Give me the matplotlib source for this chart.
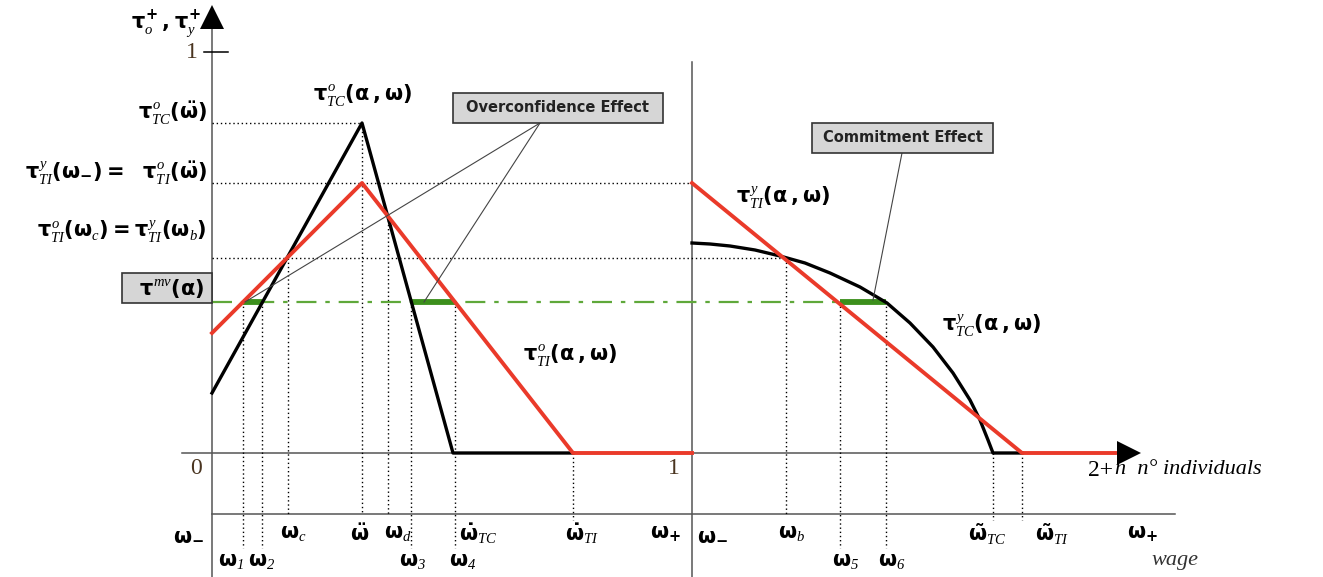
import matplotlib
matplotlib.use("agg")
import matplotlib.pyplot as plt
from matplotlib.patches import Rectangle

plt.rcParams.update({
    "mathtext.fontset": "custom",
    "mathtext.rm": "DejaVu Sans:bold",
    "mathtext.it": "DejaVu Sans:bold",
    "mathtext.bf": "DejaVu Sans:bold",
    "mathtext.cal": "Liberation Serif:italic",
})

# curves in picture coordinates (x to the right, y downwards)
tc_o_x = [212, 362, 453, 573]
tc_o_y = [393, 123, 453, 453]
ti_o_x = [212, 362, 573, 692]
ti_o_y = [333, 183, 453, 453]
ti_y_x = [692, 1022, 1115]
ti_y_y = [183, 453, 453]
tc_y_x = [692, 710, 730, 755, 780, 805, 830, 860, 887, 910, 933, 953, 970,
          980, 988, 993, 1022]
tc_y_y = [243, 244, 246, 250, 256, 263, 273, 287, 303, 323, 347, 373, 400,
          420, 440, 453, 453]

mv_level = 302
green_from = [243, 411, 840]
green_to = [262, 455, 886]

# dotted guides
h_levels = [123, 183, 258]
h_ends = [362, 692, 786]
v_x = [243, 262, 288, 362, 388, 411, 455, 573, 786, 840, 886, 993, 1022]
v_top = [302, 302, 258, 123, 216, 302, 302, 453, 258, 302, 302, 453, 453]
v_bot = [548, 548, 514, 514, 514, 548, 548, 520, 514, 548, 548, 520, 520]

W = r"\omega"
row1_labels = [r"$%s_{-}$" % W, r"$%s_{\mathcal{c}}$" % W, r"$\ddot{%s}$" % W,
               r"$%s_{\mathcal{d}}$" % W, r"$\dot{%s}_{\mathcal{TC}}$" % W,
               r"$\dot{%s}_{\mathcal{TI}}$" % W, r"$%s_{+}$" % W,
               r"$%s_{-}$" % W, r"$%s_{\mathcal{b}}$" % W,
               r"$\tilde{%s}_{\mathcal{TC}}$" % W, r"$\tilde{%s}_{\mathcal{TI}}$" % W,
               r"$%s_{+}$" % W]
row1_x = [188, 293, 360, 398, 478, 582, 665, 712, 792, 987, 1052, 1142]
row2_labels = [r"$%s_{\mathcal{1}}$" % W, r"$%s_{\mathcal{2}}$" % W,
               r"$%s_{\mathcal{3}}$" % W, r"$%s_{\mathcal{4}}$" % W,
               r"$%s_{\mathcal{5}}$" % W, r"$%s_{\mathcal{6}}$" % W]
row2_x = [231, 262, 412, 463, 846, 892]

red = "#ea3a2a"
green_dash = "#5fa83a"
green_thick = "#3c8f1c"

fig = plt.figure(figsize=(13.23, 5.77), dpi=100)
ax = fig.add_axes([0, 0, 1, 1])
ax.set_xlim(0, 1323)
ax.set_ylim(577, 0)
ax.axis("off")

# axes of the diagram
axc = "#555555"
ax.plot([212, 212], [25, 577], color=axc, lw=1.1)
ax.plot([692, 692], [62, 577], color=axc, lw=1.1)
ax.plot([182, 1120], [453, 453], color=axc, lw=1.1)
ax.plot([212, 1175], [514, 514], color=axc, lw=1.1)
ax.plot([204, 228], [52, 52], color="k", lw=1.1)
ax.plot([212], [17], marker="^", ms=17, color="k", mew=0)
ax.plot([1129], [453], marker=">", ms=17, color="k", mew=0)

# dotted guides
for lev, xe in zip(h_levels, h_ends):
    ax.plot([212, xe], [lev, lev], color="k", lw=1, ls=(0, (1, 2)))
for x, t, b in zip(v_x, v_top, v_bot):
    ax.plot([x, x], [t, b], color="k", lw=1, ls=(0, (1, 2)))

# reservation level
ax.plot([212, 886], [mv_level, mv_level], color=green_dash, lw=1.6,
        ls=(0, (9, 4, 2, 4)))
for a, b in zip(green_from, green_to):
    ax.plot([a, b], [mv_level, mv_level], color=green_thick, lw=4.2,
            solid_capstyle="butt")

# curves
ax.plot(tc_o_x, tc_o_y, color="k", lw=2.4)
ax.plot(ti_o_x, ti_o_y, color=red, lw=2.8)
ax.plot(tc_y_x, tc_y_y, color="k", lw=2.4)
ax.plot(ti_y_x, ti_y_y, color=red, lw=2.8)

# callout boxes
ax.plot([540, 245], [123, 302], color="#444444", lw=0.8)
ax.plot([540, 424], [123, 302], color="#444444", lw=0.8)
ax.plot([902, 873], [153, 300], color="#444444", lw=0.8)
boxes = [(453, 93, 210, 30, "Overconfidence Effect"),
         (812, 123, 181, 30, "Commitment Effect")]
for bx, by, bw, bh, txt in boxes:
    ax.add_patch(Rectangle((bx, by), bw, bh, facecolor="#d6d6d6",
                           edgecolor="#333333", lw=1.2, zorder=5))
    ax.text(bx + bw / 2, by + bh / 2, txt, ha="center", va="center",
            fontsize=10.5, fontweight="bold", color="#222222", zorder=6)
ax.add_patch(Rectangle((122, 273), 90, 30, facecolor="#d6d6d6",
                       edgecolor="#333333", lw=1.2, zorder=5))

# text labels
fs = 15
T = r"\tau"
ax.text(166, 24, r"$%s^{+}_{\mathcal{o}}\,,%s^{+}_{\mathcal{y}}$" % (T, T),
        ha="center", va="center", fontsize=fs)
ax.text(192, 53, "1", ha="center", va="center", fontsize=17,
        family="Liberation Serif", color="#4a3520")
ax.text(196, 468, "0", ha="center", va="center", fontsize=17,
        family="Liberation Serif", color="#4a3520")
ax.text(674, 468, "1", ha="center", va="center", fontsize=17,
        family="Liberation Serif", color="#4a3520")
ax.text(207, 113, r"$%s^{\mathcal{o}}_{\mathcal{TC}}(\ddot{%s})$" % (T, W),
        ha="right", va="center", fontsize=fs)
ax.text(207, 173, r"$%s^{\mathcal{y}}_{\mathcal{TI}}(%s_{-})=\ \ %s^{\mathcal{o}}_{\mathcal{TI}}(\ddot{%s})$" % (T, W, T, W),
        ha="right", va="center", fontsize=fs)
ax.text(207, 232, r"$%s^{\mathcal{o}}_{\mathcal{TI}}(%s_{\mathcal{c}})=%s^{\mathcal{y}}_{\mathcal{TI}}(%s_{\mathcal{b}})$" % (T, W, T, W),
        ha="right", va="center", fontsize=fs)
ax.text(205, 289, r"$%s^{\mathcal{mv}}(\alpha)$" % T, ha="right",
        va="center", fontsize=fs, zorder=6)
ax.text(363, 95, r"$%s^{\mathcal{o}}_{\mathcal{TC}}(\alpha\,,%s)$" % (T, W),
        ha="center", va="center", fontsize=fs)
ax.text(570, 355, r"$%s^{\mathcal{o}}_{\mathcal{TI}}(\alpha\,,%s)$" % (T, W),
        ha="center", va="center", fontsize=fs)
ax.text(783, 198, r"$%s^{\mathcal{y}}_{\mathcal{TI}}(\alpha\,,%s)$" % (T, W),
        ha="center", va="center", fontsize=fs)
ax.text(992, 326, r"$%s^{\mathcal{y}}_{\mathcal{TC}}(\alpha\,,%s)$" % (T, W),
        ha="center", va="center", fontsize=fs)

for lab, x in zip(row1_labels, row1_x):
    ax.text(x, 534, lab, ha="center", va="center", fontsize=fs)
for lab, x in zip(row2_labels, row2_x):
    ax.text(x, 562, lab, ha="center", va="center", fontsize=fs)

ax.text(1088, 470, "2+", ha="left", va="center", fontsize=17,
        family="Liberation Serif")
ax.text(1115, 470, "n  n\u00b0 individuals", ha="left", va="center",
        fontsize=16, family="Liberation Serif", style="italic")
ax.text(1175, 560, "wage", ha="center", va="center", fontsize=16,
        family="Liberation Serif", style="italic", color="#333333")

fig.savefig("out.png", dpi=100, facecolor="white")
